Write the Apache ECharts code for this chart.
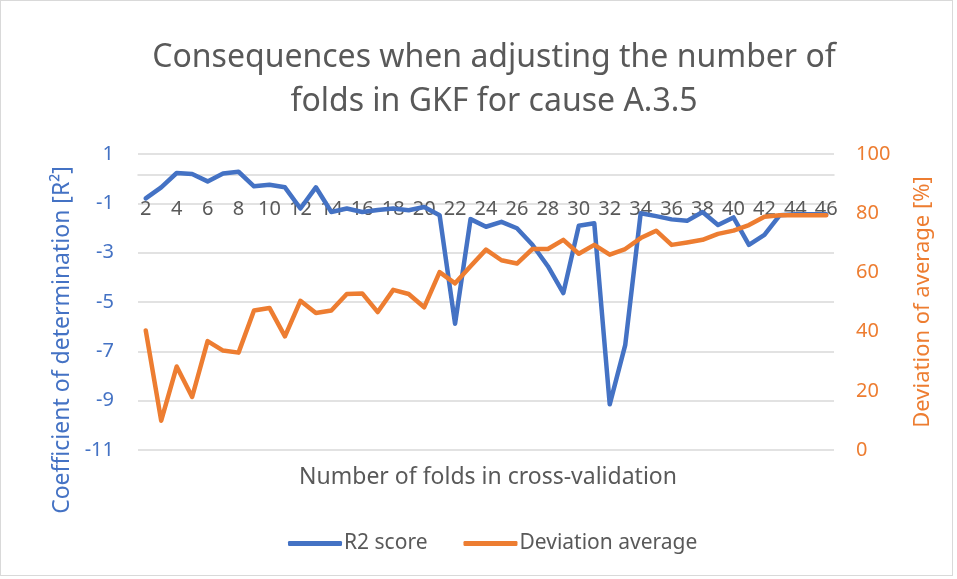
<!DOCTYPE html>
<html>
<head>
<meta charset="utf-8">
<script src="https://cdn.jsdelivr.net/npm/echarts@6/dist/echarts.min.js"></script>
<style>
  html, body { margin: 0; padding: 0; background: #fff; }
  #chart { width: 953px; height: 576px; border: 1px solid #d9d9d9; box-sizing: border-box; }
</style>
</head>
<body>
<div id="chart"></div>
<script>
// number of folds
const folds = []
for (let k = 2; k <= 46; k++) folds.push(String(k))

// R2 score (left axis)
const r2Score = [
  -0.8, -0.35, 0.23, 0.19, -0.11, 0.21, 0.28, -0.31, -0.25, -0.35,
  -1.21, -0.35, -1.35, -1.21, -1.35, -1.27, -1.21, -1.28, -1.15, -1.48,
  -5.88, -1.64, -1.95, -1.75, -2.01, -2.68, -3.55, -4.64, -1.91, -1.81,
  -9.15, -6.75, -1.4, -1.52, -1.65, -1.71, -1.35, -1.88, -1.57, -2.68,
  -2.28, -1.48, -1.44, -1.44, -1.44
]

// deviation average in % (right axis)
const deviationAvg = [
  40.4, 9.9, 28.2, 17.9, 36.8, 33.6, 32.9, 47.1, 48.0, 38.4,
  50.4, 46.3, 47.1, 52.7, 52.9, 46.6, 54.1, 52.7, 48.2, 60.1,
  56.3, 62.1, 67.7, 64.1, 63.0, 67.9, 67.9, 71.0, 66.3, 69.3,
  66.0, 67.9, 71.6, 74.1, 69.3, 70.1, 71.0, 73.0, 74.1, 76.0,
  78.8, 79.3, 79.3, 79.3, 79.3
]

const FONT = 'Noto Sans'
const GREY = '#595959'
const BLUE = '#4472C4'
const ORANGE = '#ED7D31'

const chart = echarts.init(document.getElementById('chart'))

const option = {
  animation: false,
  textStyle: { fontFamily: FONT },
  title: {
    text: 'Consequences when adjusting the number of\nfolds in GKF for cause A.3.5',
    left: 488,
    top: 30,
    textAlign: 'center',
    textStyle: { fontSize: 32, fontWeight: 'normal', color: GREY, lineHeight: 44, fontFamily: FONT },
  },
  legend: {
    bottom: 16,
    left: 282,
    itemGap: 36,
    itemWidth: 54,
    itemHeight: 5,
    icon: 'roundRect',
    textStyle: { fontSize: 21, color: GREY, fontFamily: FONT, padding: [0, 0, 0, -3] },
    data: ['R2 score', 'Deviation average'],
  },
  grid: {
    left: 137,
    right: 118,
    top: 153,
    bottom: 125,
    containLabel: false,
    outerBoundsMode: 'none',
  },
  xAxis: {
    type: 'category',
    data: folds,
    boundaryGap: true,
    position: 'bottom',
    offset: -275,
    axisLine: { onZero: false, lineStyle: { color: '#d9d9d9', width: 1.5 } },
    axisTick: { show: false },
    axisLabel: { interval: 1, fontSize: 20, color: GREY, margin: 24, fontFamily: FONT },
    name: 'Number of folds in cross-validation',
    nameLocation: 'middle',
    nameGap: 291,
    nameTextStyle: { fontSize: 23, color: GREY, fontFamily: FONT, padding: [0, 0, 0, 4] },
  },
  yAxis: [
    {
      type: 'value',
      min: -11,
      max: 1,
      interval: 2,
      position: 'left',
      axisLine: { show: false },
      axisTick: { show: false },
      axisLabel: { fontSize: 20, color: BLUE, margin: 24, fontFamily: FONT },
      splitLine: { lineStyle: { color: '#d9d9d9', width: 1.5 } },
      name: 'Coefficient of determination [R\u00B2]',
      nameLocation: 'middle',
      nameGap: 63,
      nameTextStyle: { fontSize: 23, color: BLUE, fontFamily: FONT, padding: [0, 76, 0, 0] },
    },
    {
      type: 'value',
      min: 0,
      max: 100,
      interval: 20,
      position: 'right',
      axisLine: { show: false },
      axisTick: { show: false },
      axisLabel: { fontSize: 20, color: ORANGE, margin: 22, fontFamily: FONT },
      splitLine: { show: false },
      name: 'Deviation of average [%]',
      nameLocation: 'middle',
      nameGap: 78,
      nameRotate: 90,
      nameTextStyle: { fontSize: 22, color: ORANGE, fontFamily: FONT },
    },
  ],
  series: [
    {
      name: 'R2 score',
      type: 'line',
      data: r2Score,
      yAxisIndex: 0,
      showSymbol: false,
      itemStyle: { color: BLUE },
      lineStyle: { width: 4.5, color: BLUE, cap: 'round', join: 'round' },
    },
    {
      name: 'Deviation average',
      type: 'line',
      data: deviationAvg,
      yAxisIndex: 1,
      showSymbol: false,
      itemStyle: { color: ORANGE },
      lineStyle: { width: 4.5, color: ORANGE, cap: 'round', join: 'round' },
    },
  ],
}

chart.setOption(option)
</script>
</body>
</html>
